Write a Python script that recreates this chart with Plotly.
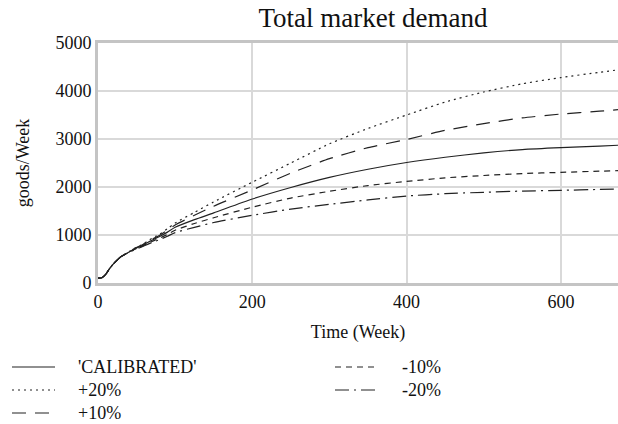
import plotly.graph_objects as go

# Simulation time axis (weeks)
weeks = [0, 5, 10, 15, 20, 25, 30, 35, 40, 45, 50, 55, 60, 65, 70, 75, 80, 90, 100,
         125, 150, 200, 250, 300, 350, 400, 450, 500, 550, 600, 650, 674]

# Total market demand (goods/Week) per scenario
calibrated = [100, 110, 180, 300, 400, 480, 550, 600, 640, 690, 730, 760, 805, 850, 890, 930, 970, 1060, 1160,
              1320, 1460, 1750, 1990, 2200, 2370, 2510, 2620, 2710, 2780, 2820, 2850, 2870]
plus20 = [100, 110, 180, 300, 400, 480, 550, 605, 650, 700, 745, 785, 830, 880, 930, 975, 1020, 1130, 1250,
          1470, 1690, 2100, 2500, 2900, 3220, 3500, 3770, 3980, 4150, 4280, 4390, 4440]
plus10 = [100, 110, 180, 300, 400, 480, 550, 600, 645, 695, 740, 775, 820, 865, 910, 950, 995, 1100, 1210,
          1410, 1600, 1940, 2290, 2590, 2820, 2990, 3180, 3320, 3440, 3520, 3580, 3610]
minus10 = [100, 110, 180, 300, 400, 480, 550, 595, 640, 680, 720, 750, 790, 830, 865, 900, 935, 1010, 1100,
           1240, 1360, 1580, 1770, 1910, 2030, 2117, 2190, 2240, 2280, 2305, 2330, 2340]
minus20 = [100, 110, 180, 300, 400, 480, 550, 595, 635, 675, 710, 740, 775, 810, 845, 875, 905, 975, 1050,
           1160, 1260, 1410, 1540, 1640, 1730, 1812, 1860, 1890, 1915, 1930, 1950, 1958]

# (name, values, dash pattern, legend column, legend row)
series = [
    ("'CALIBRATED'", calibrated, "solid", 0, 0),
    ("+20%", plus20, "2px,4px", 0, 1),
    ("+10%", plus10, "14px,9px", 0, 2),
    ("-10%", minus10, "6px,5px", 1, 0),
    ("-20%", minus20, "14px,5px,2px,5px", 1, 1),
]

SERIF = "Liberation Serif, Times New Roman, serif"
LINE_COLOR = "#222222"

W, H = 618, 424
ML, MT, MB = 98, 43, 141
PW, PH = W - ML, H - MT - MB


def px_to_paper(px, py):
    return (px - ML) / PW, (H - MB - py) / PH


fig = go.Figure()
for name, vals, dash, col, row in series:
    fig.add_trace(go.Scatter(
        x=weeks, y=vals, name=name, mode="lines", showlegend=False,
        line=dict(color=LINE_COLOR, width=1.2, dash=dash, shape="spline", smoothing=0.6),
    ))

# Two-column key below the chart: line sample followed by its label
col_sample_x = [(12, 55), (335, 378)]
col_text_x = [76, 400]
row_y = [367, 390, 413]
for name, vals, dash, col, row in series:
    x0, y0 = px_to_paper(col_sample_x[col][0], row_y[row])
    x1, _ = px_to_paper(col_sample_x[col][1], row_y[row])
    fig.add_shape(type="line", xref="paper", yref="paper", x0=x0, x1=x1, y0=y0, y1=y0,
                  line=dict(color=LINE_COLOR, width=1.2, dash=dash))
    tx, ty = px_to_paper(col_text_x[col], row_y[row])
    fig.add_annotation(text=name, xref="paper", yref="paper", x=tx, y=ty,
                       xanchor="left", yanchor="middle", showarrow=False,
                       font=dict(family=SERIF, size=18, color="#111111"))

fig.update_layout(
    width=W, height=H,
    margin=dict(l=ML, r=0, t=MT, b=MB),
    paper_bgcolor="white", plot_bgcolor="white",
    font=dict(family=SERIF, size=18, color="#111111"),
    title=dict(text="Total market demand", x=373 / W, xanchor="center",
               y=1 - 18 / H, yanchor="middle", font=dict(family=SERIF, size=27)),
    showlegend=False,
    xaxis=dict(
        range=[0, 674], tickvals=[0, 200, 400, 600],
        showgrid=True, gridcolor="#d9d9d9", gridwidth=1.5,
        showline=True, linecolor="#c4c4c4", linewidth=3, mirror=True,
        zeroline=False, ticks="", tickfont=dict(family=SERIF, size=18),
        title=dict(text="Time (Week)", standoff=15, font=dict(family=SERIF, size=18)),
    ),
    yaxis=dict(
        range=[0, 5000], tickvals=[0, 1000, 2000, 3000, 4000, 5000],
        showgrid=True, gridcolor="#d9d9d9", gridwidth=1.5,
        showline=True, linecolor="#c4c4c4", linewidth=3,
        zeroline=False, ticks="", tickfont=dict(family=SERIF, size=18),
        title=dict(text="goods/Week", standoff=22, font=dict(family=SERIF, size=18)),
    ),
)

fig.write_html("out.html")
